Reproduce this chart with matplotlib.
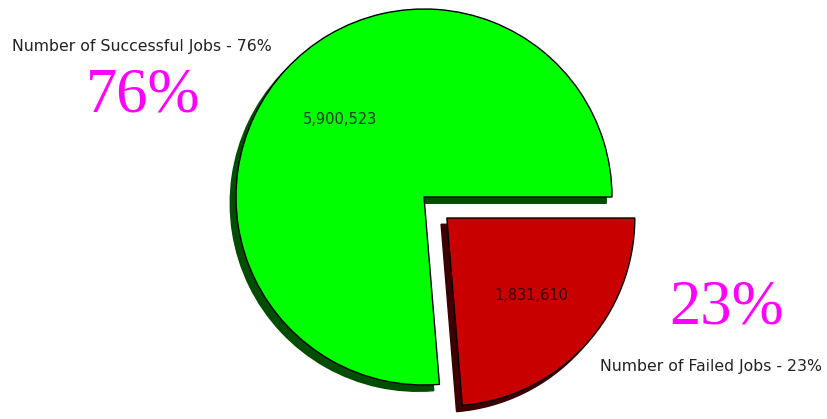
import matplotlib
matplotlib.use('Agg')
import matplotlib.pyplot as plt

names = ['Number of Successful Jobs', 'Number of Failed Jobs']
counts = [5900523, 1831610]
colors = ['#00ff00', '#c80000']
explode = [0, 0.165]

total = sum(counts)
pcts = [int(100 * c / total) for c in counts]  # truncated like the original (23%, not 24%)

fig = plt.figure(figsize=(8.27, 4.19), dpi=100)
ax = fig.add_axes([0, 0, 1, 1])

wedges, texts, autotexts = ax.pie(
    counts, colors=colors, explode=explode, startangle=0,
    counterclock=True, autopct='%1.0f', pctdistance=0.61,
    shadow={'ox': -0.022, 'oy': -0.024, 'shade': 0.7, 'alpha': 1.0},
    wedgeprops={'edgecolor': 'black', 'linewidth': 1.0},
    radius=1.0)

# pie centre at pixel (424, 197), radius ~188 px
r_px = 188
ax.set_aspect('auto')
ax.set_xlim(-424 / r_px, (827 - 424) / r_px)
ax.set_ylim(-(419 - 197) / r_px, 197 / r_px)
ax.axis('off')

text_cols = ['#1f3f1f', '#3a0000']
for t, c, col in zip(autotexts, counts, text_cols):
    t.set_text(f'{c:,}')
    t.set_fontsize(10.5)
    t.set_color(col)

# outer labels
fig.text(12 / 827, 1 - 47 / 419, f'{names[0]} - {pcts[0]}%',
         ha='left', va='center', fontsize=11.3, color='#222222')
fig.text(600 / 827, 1 - 366 / 419, f'{names[1]} - {pcts[1]}%',
         ha='left', va='center', fontsize=11.3, color='#222222')

fig.text(143 / 827, 1 - 96 / 419, f'{pcts[0]}%', ha='center', va='center',
         fontsize=45, color='#ff00ff', family='Liberation Serif')
fig.text(727 / 827, 1 - 308 / 419, f'{pcts[1]}%', ha='center', va='center',
         fontsize=45, color='#ff00ff', family='Liberation Serif')

fig.savefig('out.png', dpi=100)
